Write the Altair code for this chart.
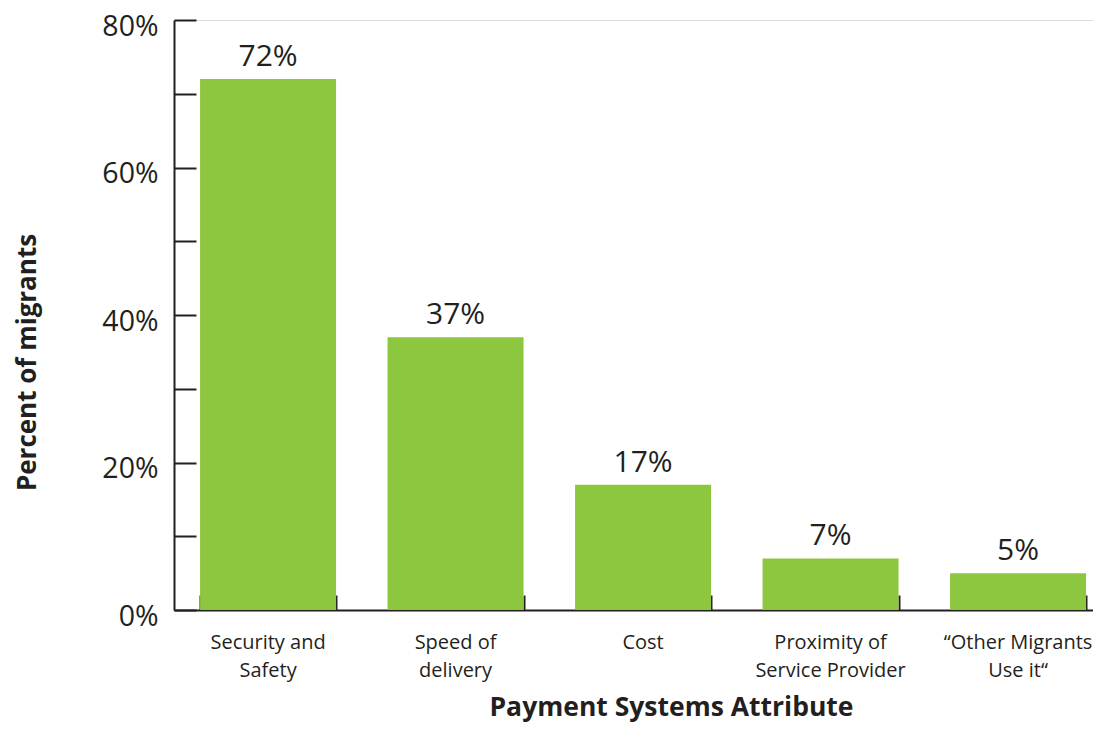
import altair as alt
import pandas as pd

categories = ["Security and|Safety", "Speed of|delivery", "Cost",
              "Proximity of|Service Provider", "\u201cOther Migrants|Use it\u201c"]
values = [72, 37, 17, 7, 5]
value_labels = ["72%", "37%", "17%", "7%", "5%"]
y_label_ticks = [0, 20, 40, 60, 80]
y_minor_ticks = [0, 10, 20, 30, 40, 50, 60, 70, 80]

df = pd.DataFrame({"cat": categories, "val": values, "lab": value_labels})

FONT = "Open Sans"
INK = "#231f20"
GREEN = "#8DC63F"

xscale = alt.Scale(domain=categories, paddingInner=0.2747, paddingOuter=0.088, align=0.79)
yscale = alt.Scale(domain=[0, 80], nice=False, zero=True)

main_x = alt.Axis(orient="bottom", title="Payment Systems Attribute", ticks=False, tickSize=0,
                  domain=True, domainColor=INK, domainWidth=2,
                  labelExpr="split(datum.label, '|')", labelFont=FONT, labelFontSize=20,
                  labelColor=INK, labelPadding=22, labelLineHeight=28, labelAngle=0,
                  labelBound=False, labelOverlap=False,
                  titleFont=FONT, titleFontSize=26.5, titleFontWeight="bold", titleColor=INK,
                  titleX=497, titleY=105, titleBaseline="alphabetic", titleAlign="center")
main_y = alt.Axis(orient="left", title="Percent of migrants", ticks=False, tickSize=0,
                  values=y_label_ticks, grid=False,
                  domain=True, domainColor=INK, domainWidth=2,
                  labelExpr="datum.value + '%'", labelFont=FONT, labelFontSize=28.5,
                  labelColor=INK, labelPadding=16, labelBaseline="middle", labelOffset=6,
                  titleFont=FONT, titleFontSize=26, titleFontWeight="bold", titleColor=INK,
                  titleX=-147, titleY=342, titleBaseline="middle", titleAlign="center",
                  titleAngle=270)

tick_x = alt.Axis(orient="bottom", title=None, labels=False, domain=False, ticks=True,
                  tickSize=15, tickWidth=2, tickColor=INK, offset=-15, tickBand="extent")
tick_y = alt.Axis(orient="left", title=None, labels=False, domain=False, ticks=True,
                  values=y_minor_ticks, grid=False,
                  tickSize=22, tickWidth=2, tickColor=INK, offset=-22)

base = alt.Chart(df)

bars = base.mark_bar(color=GREEN).encode(
    x=alt.X("cat:N", sort=categories, scale=xscale, axis=main_x),
    y=alt.Y("val:Q", scale=yscale, axis=main_y),
)

tick_layer = base.mark_bar(opacity=0).encode(
    x=alt.X("cat:N", sort=categories, scale=xscale, axis=tick_x),
    y=alt.Y("val:Q", scale=yscale, axis=tick_y),
)

text = base.mark_text(font=FONT, fontSize=30, color=INK, baseline="alphabetic", dy=-13).encode(
    x=alt.X("cat:N", sort=categories, scale=xscale, axis=None),
    y=alt.Y("val:Q", scale=yscale, axis=None),
    text="lab:N",
)

chart = alt.layer(tick_layer, bars, text).resolve_axis(x="independent", y="independent").properties(
    width=919, height=590,
    autosize=alt.AutoSizeParams(type="none"),
    padding={"left": 166, "top": 12, "right": 0, "bottom": 112},
).configure_view(stroke=None).configure(background="white")

chart.save("out.html", embed_options={"renderer": "svg", "actions": False})
